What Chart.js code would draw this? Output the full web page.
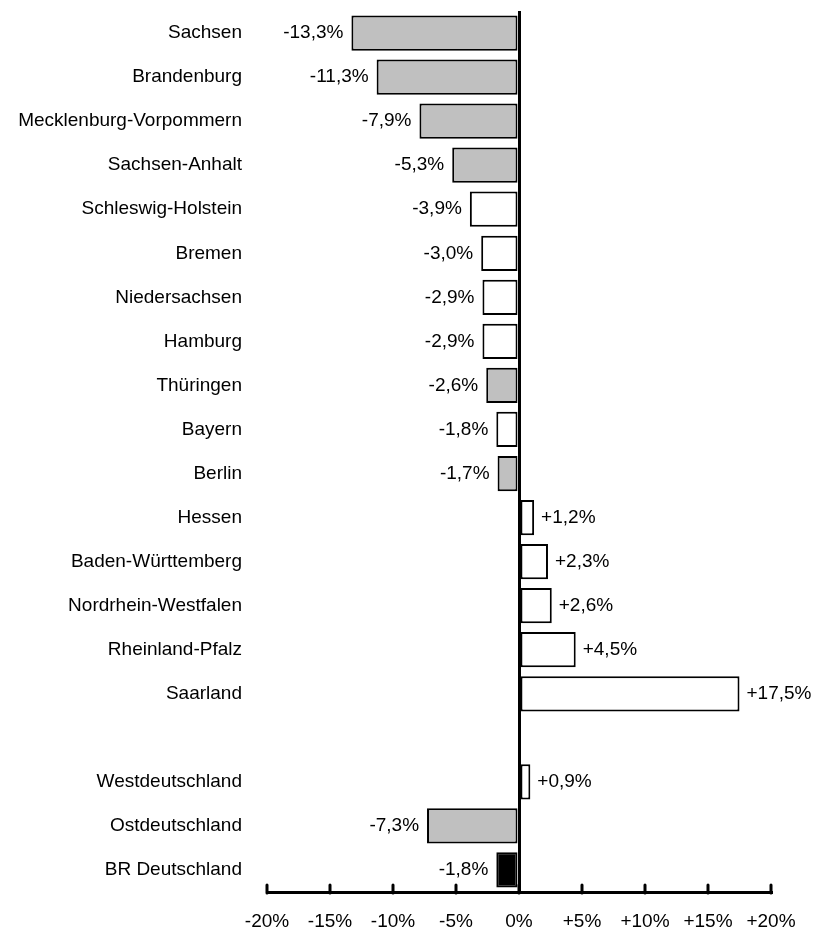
<!DOCTYPE html>
<html>
<head>
<meta charset="utf-8">
<script src="https://cdn.jsdelivr.net/npm/chart.js@4.4.1/dist/chart.umd.min.js"></script>
<style>
  html, body { margin: 0; padding: 0; background: #fff; }
  #wrap { position: relative; width: 814px; height: 930px; }
</style>
</head>
<body>
<div id="wrap"><canvas id="g-laender"></canvas></div>
<script>
// Veraenderung in Prozent je Bundesland (leere Zeile = Abstand vor den Summen)
var laender = ["Sachsen", "Brandenburg", "Mecklenburg-Vorpommern", "Sachsen-Anhalt", "Schleswig-Holstein",
  "Bremen", "Niedersachsen", "Hamburg", "Thüringen", "Bayern", "Berlin", "Hessen", "Baden-Württemberg",
  "Nordrhein-Westfalen", "Rheinland-Pfalz", "Saarland", "", "Westdeutschland", "Ostdeutschland", "BR Deutschland"];
var werte = [-13.3, -11.3, -7.9, -5.3, -3.9, -3.0, -2.9, -2.9, -2.6, -1.8, -1.7, 1.2, 2.3, 2.6, 4.5, 17.5,
  null, 0.9, -7.3, -1.8];
var gruppe = ["ost", "ost", "ost", "ost", "west", "west", "west", "west", "ost", "west", "ost", "west", "west",
  "west", "west", "west", "", "west", "ost", "bund"];
var xTicks = [-20, -15, -10, -5, 0, 5, 10, 15, 20];

var FARBE = { ost: "#c0c0c0", west: "#ffffff", bund: "#000000", "": "transparent" };
var ff = "'Liberation Sans', Arial, sans-serif";
var fs = 19;

function fmtProz(v) {
  var s = Math.abs(v).toFixed(1).replace(".", ",");
  return (v > 0 ? "+" : v < 0 ? "-" : "") + s + "%";
}

// Werte-Beschriftung neben den Balken
var wertLabels = {
  id: "wertLabels",
  afterDatasetsDraw: function(chart) {
    var ctx = chart.ctx, meta = chart.getDatasetMeta(0);
    ctx.save();
    ctx.font = fs + "px " + ff;
    ctx.fillStyle = "#000";
    ctx.textBaseline = "middle";
    meta.data.forEach(function(el, i) {
      var v = werte[i];
      if (v == null) return;
      if (v < 0) { ctx.textAlign = "right"; ctx.fillText(fmtProz(v), el.x - 8, el.y); }
      else { ctx.textAlign = "left"; ctx.fillText(fmtProz(v), el.x + 7, el.y); }
    });
    ctx.restore();
  }
};

// Striche an der x-Achse nach oben
var achsStriche = {
  id: "achsStriche",
  afterDraw: function(chart) {
    var xs = chart.scales.x, ctx = chart.ctx;
    ctx.save();
    ctx.strokeStyle = "#000";
    ctx.lineWidth = 3;
    ctx.lineCap = "round";
    xs.ticks.forEach(function(t) {
      var px = Math.round(xs.getPixelForValue(t.value));
      ctx.beginPath();
      ctx.moveTo(px, xs.top - 7);
      ctx.lineTo(px, xs.top + 1);
      ctx.stroke();
    });
    ctx.restore();
  }
};

new Chart(document.getElementById("g-laender"), {
  type: "bar",
  data: {
    labels: laender,
    datasets: [{
      data: werte,
      backgroundColor: gruppe.map(function(g) { return FARBE[g]; }),
      borderColor: "#000",
      borderWidth: 2,
      borderSkipped: false,
      barPercentage: 0.8,
      categoryPercentage: 1.0
    }]
  },
  options: {
    responsive: true, maintainAspectRatio: false, indexAxis: "y", animation: false,
    layout: { padding: { top: 11, right: 43, left: 0, bottom: 0 } },
    plugins: { legend: { display: false }, tooltip: { enabled: false } },
    scales: {
      x: {
        min: -20, max: 20,
        afterBuildTicks: function(s) { s.ticks = xTicks.map(function(v) { return { value: v }; }); },
        afterFit: function(s) { s.height = 38; s.paddingLeft = 0; s.paddingRight = 0; },
        grid: {
          drawTicks: false,
          color: function(c) { return c.tick && c.tick.value === 0 ? "#000" : "transparent"; },
          lineWidth: 3
        },
        border: { display: true, color: "#000", width: 3 },
        ticks: {
          color: "#000", padding: 18, maxRotation: 0, autoSkip: false,
          font: { size: fs, family: ff },
          callback: function(v) { return v > 0 ? "+" + v + "%" : v + "%"; }
        }
      },
      y: {
        afterFit: function(s) { s.width = 267; s.paddingTop = 0; s.paddingBottom = 0; },
        grid: { display: false, drawTicks: false },
        border: { display: false },
        ticks: { color: "#000", padding: 25, autoSkip: false, font: { size: fs, family: ff } }
      }
    }
  },
  plugins: [wertLabels, achsStriche]
});
</script>
</body>
</html>
